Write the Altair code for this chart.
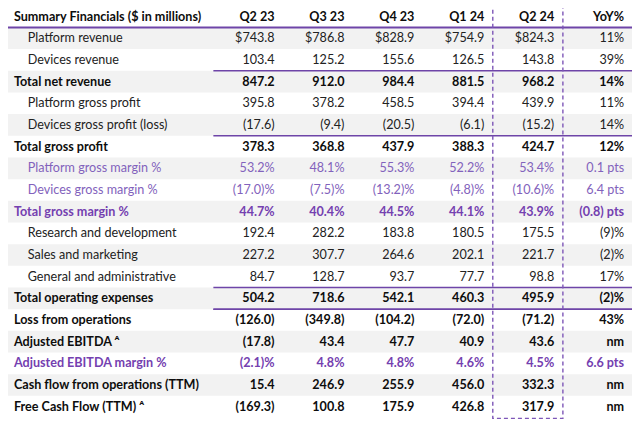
import altair as alt
import pandas as pd

# ---------------- data ----------------
title_label = "Summary Financials ($ in millions)"
columns = ["Q2 23", "Q3 23", "Q4 23", "Q1 24", "Q2 24", "YoY%"]

labels = [
    "Platform revenue", "Devices revenue", "Total net revenue",
    "Platform gross profit", "Devices gross profit (loss)", "Total gross profit",
    "Platform gross margin %", "Devices gross margin %", "Total gross margin %",
    "Research and development", "Sales and marketing", "General and administrative",
    "Total operating expenses", "Loss from operations", "Adjusted EBITDA \u1d2c",
    "Adjusted EBITDA margin %", "Cash flow from operations (TTM)", "Free Cash Flow (TTM) \u1d2c",
]
kinds = ["dollar", "num", "num", "num", "num", "num", "pct", "pct", "pct",
         "num", "num", "num", "num", "num", "num", "pct", "num", "num"]
indent = [1, 1, 0, 1, 1, 0, 1, 1, 0, 1, 1, 1, 0, 0, 0, 0, 0, 0]
bold = [0, 0, 1, 0, 0, 1, 0, 0, 1, 0, 0, 0, 1, 1, 1, 1, 1, 1]
purple = [0, 0, 0, 0, 0, 0, 1, 1, 1, 0, 0, 0, 0, 0, 0, 1, 0, 0]

q2_23 = [743.8, 103.4, 847.2, 395.8, -17.6, 378.3, 53.2, -17.0, 44.7, 192.4, 227.2, 84.7, 504.2, -126.0, -17.8, -2.1, 15.4, -169.3]
q3_23 = [786.8, 125.2, 912.0, 378.2, -9.4, 368.8, 48.1, -7.5, 40.4, 282.2, 307.7, 128.7, 718.6, -349.8, 43.4, 4.8, 246.9, 100.8]
q4_23 = [828.9, 155.6, 984.4, 458.5, -20.5, 437.9, 55.3, -13.2, 44.5, 183.8, 264.6, 93.7, 542.1, -104.2, 47.7, 4.8, 255.9, 175.9]
q1_24 = [754.9, 126.5, 881.5, 394.4, -6.1, 388.3, 52.2, -4.8, 44.1, 180.5, 202.1, 77.7, 460.3, -72.0, 40.9, 4.6, 456.0, 426.8]
q2_24 = [824.3, 143.8, 968.2, 439.9, -15.2, 424.7, 53.4, -10.6, 43.9, 175.5, 221.7, 98.8, 495.9, -71.2, 43.6, 4.5, 332.3, 317.9]
yoy = ["11%", "39%", "14%", "11%", "14%", "12%", "0.1 pts", "6.4 pts", "(0.8) pts",
       "(9)%", "(2)%", "17%", "(2)%", "43%", "nm", "6.6 pts", "nm", "nm"]

total_rows = [2, 5, 12, 13]  # rows with a rule above them

# ---------------- layout / style ----------------
FONT = "Lato"
FS = 12.6
DARK = "#222222"
BLACK = "#0d0d0d"
PURPLE_TXT = "#8262BC"
PURPLE_BOLD = "#7440B0"
PURPLE_LINE = "#6E45A8"
BAND = "#F2F2F2"

W, H = 624, 411
ROW0, ROWH = 37, 22.2
# x in reference-pixel units, y in row units
xs = alt.Scale(domain=[8, 640], range=[0, W])
ys = alt.Scale(domain=[(6 - ROW0) / ROWH, (427 - ROW0) / ROWH], range=[0, H])


def col_x(k):  # right edge of numeric column k (1..6)
    return 207.2 + 70.8 * k


def fmt(v, kind):
    if kind == "dollar":
        return f"${v:.1f}"
    core = f"({abs(v):.1f})" if v < 0 else f"{v:.1f}"
    return core + ("%" if kind == "pct" else "")


series = [q2_23, q3_23, q4_23, q1_24, q2_24]
cells = []
# header row
cells.append(dict(row=-1, x=14, text=title_label, bold=1, color=BLACK, side="L"))
for k, c in enumerate(columns, start=1):
    cells.append(dict(row=-1, x=col_x(k), text=c, bold=1, color=BLACK, side="R"))
for i, lab in enumerate(labels):
    if purple[i]:
        colr = PURPLE_BOLD if bold[i] else PURPLE_TXT
    else:
        colr = BLACK if bold[i] else DARK
    cells.append(dict(row=i, x=28 if indent[i] else 14, text=lab, bold=bold[i], color=colr, side="L"))
    for k, s in enumerate(series, start=1):
        cells.append(dict(row=i, x=col_x(k), text=fmt(s[i], kinds[i]), bold=bold[i], color=colr, side="R"))
    cells.append(dict(row=i, x=col_x(6), text=yoy[i], bold=bold[i], color=colr, side="R"))
cells_df = pd.DataFrame(cells)

bands_df = pd.DataFrame({"y": [i - 0.5 for i in range(0, 18, 2)],
                         "y2": [i + 0.5 for i in range(0, 18, 2)],
                         "x": 5, "x2": 640})
rules_df = pd.DataFrame({"y": [r - 0.5 for r in total_rows] + [12.5],
                         "x": 216, "x2": 640})
header_rule_df = pd.DataFrame({"y": [-0.5], "x": [5], "x2": [640]})
box_df = pd.DataFrame({"x": [499], "x2": [570], "y": [-2.2], "y2": [(426.5 - ROW0) / ROWH]})

bands = alt.Chart(bands_df).mark_rect(color=BAND, clip=True).encode(
    x=alt.X("x:Q", scale=xs, axis=None), x2="x2:Q",
    y=alt.Y("y:Q", scale=ys, axis=None), y2="y2:Q")

rules = alt.Chart(rules_df).mark_rule(color=PURPLE_LINE, strokeWidth=1.5).encode(
    x=alt.X("x:Q", scale=xs, axis=None), x2="x2:Q",
    y=alt.Y("y:Q", scale=ys, axis=None))

header_rule = alt.Chart(header_rule_df).mark_rule(color=PURPLE_LINE, strokeWidth=2, clip=True).encode(
    x=alt.X("x:Q", scale=xs, axis=None), x2="x2:Q",
    y=alt.Y("y:Q", scale=ys, axis=None))

box = alt.Chart(box_df).mark_rect(fillOpacity=0, stroke="#7E57B8", strokeWidth=1.4,
                                  strokeDash=[4, 3], clip=True).encode(
    x=alt.X("x:Q", scale=xs, axis=None), x2="x2:Q",
    y=alt.Y("y:Q", scale=ys, axis=None), y2="y2:Q")


def text_layer(side, is_bold):
    return alt.Chart(cells_df).transform_filter(
        (alt.datum.side == side) & (alt.datum.bold == is_bold)
    ).mark_text(
        align="left" if side == "L" else "right", baseline="middle",
        font=FONT, fontSize=FS, fontWeight="bold" if is_bold else "normal"
    ).encode(
        x=alt.X("x:Q", scale=xs, axis=None),
        y=alt.Y("row:Q", scale=ys, axis=None),
        text="text:N",
        color=alt.Color("color:N", scale=None),
    )


chart = alt.layer(
    bands, rules, header_rule, box,
    text_layer("L", 0), text_layer("L", 1), text_layer("R", 0), text_layer("R", 1),
).properties(
    width=W, height=H, padding=0, autosize=alt.AutoSizeParams(type="none"),
    background="white",
).configure_view(stroke=None)

chart.save("out.html", embed_options={"renderer": "svg", "actions": False})
